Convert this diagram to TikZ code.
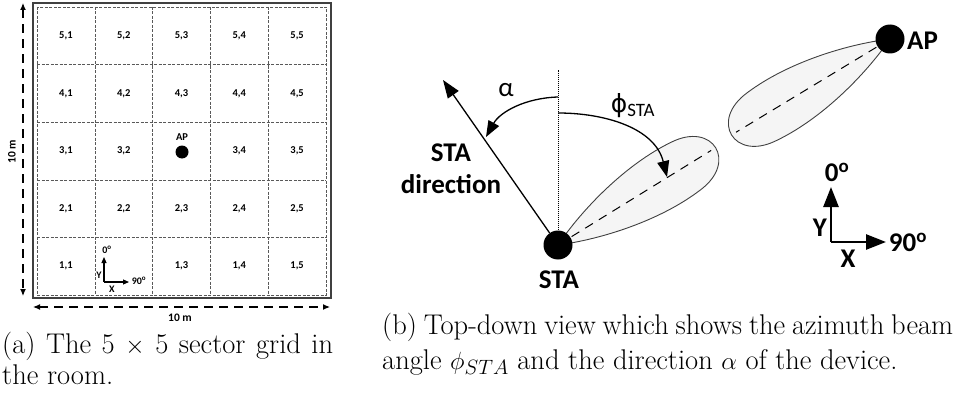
\documentclass[tikz,border=0pt]{standalone}
\usepackage{fontspec}
\newfontfamily\calib{Carlito}
\newfontfamily\dejavu{DejaVu Sans}
\usetikzlibrary{arrows.meta}

\begin{document}
\begin{tikzpicture}[x=1pt, y=-1pt,
    lbl/.style={font=\calib\bfseries\fontsize{10.5}{12}\selectfont, inner sep=0pt},
    dimlbl/.style={font=\calib\bfseries\fontsize{11.5}{13}\selectfont, inner sep=0pt},
    smalllbl/.style={font=\calib\bfseries\fontsize{10}{11}\selectfont, inner sep=0pt},
    big/.style={font=\calib\bfseries\fontsize{27}{32}\selectfont, inner sep=0pt},
    greek/.style={font=\calib\fontsize{27}{32}\selectfont, inner sep=0pt},
    captxt/.style={font=\fontsize{28.5}{34}\selectfont, inner sep=0pt, anchor=base west},
    gridline/.style={gray!70!black, dash pattern=on 3pt off 1.5pt, line width=0.6pt},
    dimarrow/.style={{Latex[length=7pt,width=6pt]}-{Latex[length=7pt,width=6pt]},
                     line width=1.2pt, dash pattern=on 9pt off 6pt},
    turn/.style={-{Triangle[length=16pt,width=12pt]}, line width=1.3pt},
    bigaxis/.style={-{Triangle[length=20pt,width=15pt]}, line width=2.6pt},
    smallaxis/.style={-{Triangle[length=6pt,width=5pt]}, line width=1.1pt},
    lobe/.style={draw=black!75, fill=gray!8, line width=0.9pt},
    blob/.style={circle, fill=black, inner sep=0pt, minimum size=#1}]
  \useasboundingbox (0,0) rectangle (958,404);

  % (a) room with the 5 x 5 sectors
  \draw[line width=2.6pt, gray!50!black] (33,3) rectangle (331,298);
  \draw[gridline] (37,7) rectangle (326,295);
  \foreach \k in {1,...,4} {
    \draw[gridline] ({37+57.8*\k},7) -- ({37+57.8*\k},295);
    \draw[gridline] (37,{7+57.6*\k}) -- (326,{7+57.6*\k});
  }
  \foreach \r in {1,...,5} {
    \foreach \c in {1,...,5} {
      \pgfmathtruncatemacro\k{10*\r+\c}
      \ifnum\k=12 \else\ifnum\k=33 \else
        \node[lbl] (s\r\c) at ({37+57.8*(\c-0.5)},{295-57.6*(\r-0.5)}) {\r,\c};
      \fi\fi
    }
  }
  \node[blob=13pt] (apA) at (182,152) {};
  \node[lbl] (apAlbl) at (182,137) {AP};

  % small axes in sector 1,2
  \coordinate (oA) at (104,282);
  \coordinate (yA) at (104,257);
  \coordinate (xA) at (129,282);
  \draw[smallaxis] (oA) -- (yA);
  \draw[smallaxis] (oA) -- (xA);
  \node[smalllbl] (zeroA) at (107,250) {0\textsuperscript{o}};
  \node[smalllbl] (ninetyA) at (139,281) {90\textsuperscript{o}};
  \node[smalllbl] (ylblA) at (99,275) {Y};
  \node[smalllbl] (xlblA) at (112,289) {X};

  % room size
  \coordinate (vtop) at (23,3);
  \coordinate (vbot) at (23,296);
  \coordinate (hleft) at (33,307);
  \coordinate (hright) at (330,307);
  \draw[dimarrow] (vtop) -- (vbot);
  \draw[dimarrow] (hleft) -- (hright);
  \node[dimlbl, rotate=90] (vlen) at (12,152) {10 m};
  \node[dimlbl] (hlen) at (180,318) {10 m};

  % (b) beams of STA and AP
  \coordinate (staC) at (558,245);
  \coordinate (apC) at (890,39);
  \foreach \p/\a in {staC/31.7, apC/211.2} {
    \begin{scope}[shift={(\p)}, rotate=\a]
      \draw[lobe] (0,0) .. controls (40,18) and (100,33) .. (150,28)
                        .. controls (197,24) and (197,-24) .. (150,-28)
                        .. controls (100,-33) and (40,-18) .. (0,0) -- cycle;
      \draw[line width=1pt, dash pattern=on 9pt off 7pt] (0,0) -- (180,0);
    \end{scope}
  }
  \node[blob=29pt] (sta) at (staC) {};
  \node[blob=29pt] (ap) at (apC) {};
  \node[big] (stalbl) at (559,280) {STA};
  \node[big, anchor=west] (aplbl) at (907,41) {AP};

  % north line and STA direction
  \coordinate (north) at (558,70);
  \coordinate (dir) at (443,80);
  \draw[densely dotted, line width=1pt] (sta) -- (north);
  \draw[-{Triangle[length=18pt,width=13pt]}, line width=1.3pt] (sta) -- (dir);
  \node[big, align=center] (dirlbl) at (451,169) {STA\\direction};

  % angles
  \coordinate (a0) at (558,97);
  \coordinate (a1) at (486,137);
  \coordinate (p0) at (558,113);
  \coordinate (p1) at (667,177);
  \draw[turn] (a0) .. controls (525,98) and (500,112) .. (a1);
  \draw[turn] (p0) .. controls (605,113) and (655,128) .. (p1);
  \node[greek] (alpha) at (506,90) {α};
  \node[greek] (phi) at (633,106) {{\dejavu\fontsize{25}{30}\selectfont ϕ}\textsubscript{STA}};

  % orientation axes
  \coordinate (oB) at (831,242);
  \coordinate (yB) at (831,187);
  \coordinate (xB) at (886,242);
  \draw[bigaxis] (oB) -- (yB);
  \draw[bigaxis] (oB) -- (xB);
  \node[big] (zeroB) at (837,172) {0\textsuperscript{o}};
  \node[big] (ninetyB) at (908,242) {90\textsuperscript{o}};
  \node[big] (ylblB) at (820,228) {Y};
  \node[big] (xlblB) at (848,259) {X};

  % captions
  \node[captxt] (capA1) at (2,353) {\makebox[331pt][s]{(a) The 5 $\times$ 5 sector grid in}};
  \node[captxt] (capA2) at (2,384) {the room.};
  \node[captxt] (capB1) at (382,334) {\makebox[571pt][s]{(b) Top-down view which shows the azimuth beam}};
  \node[captxt] (capB2) at (382,369) {angle $\phi_{STA}$ and the direction $\alpha$ of the device.};
\end{tikzpicture}
\end{document}
